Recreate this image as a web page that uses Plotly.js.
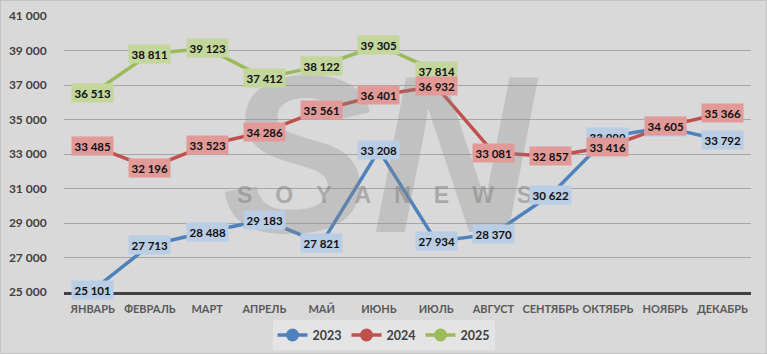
<!DOCTYPE html>
<html>
<head>
<meta charset="utf-8">
<script src="https://cdn.plot.ly/plotly-3.0.1.min.js"></script>
<style>
html,body{margin:0;padding:0;background:#d9d9d9;}
#chart{width:767px;height:354px;box-sizing:border-box;border:1px solid #c4c4c4;}
</style>
</head>
<body>
<div id="chart"></div>
<script>
const months = ['ЯНВАРЬ','ФЕВРАЛЬ','МАРТ','АПРЕЛЬ','МАЙ','ИЮНЬ','ИЮЛЬ','АВГУСТ','СЕНТЯБРЬ','ОКТЯБРЬ','НОЯБРЬ','ДЕКАБРЬ'];
const v2023 = [25101, 27713, 28488, 29183, 27821, 33208, 27934, 28370, 30622, 33999, 34550, 33792];
const v2024 = [33485, 32196, 33523, 34286, 35561, 36401, 36932, 33081, 32857, 33416, 34605, 35366];
const v2025 = [36513, 38811, 39123, 37412, 38122, 39305, 37814, null, null, null, null, null];
const seriesNames = ['2023', '2024', '2025'];
const lineColors = ['#4f81bd', '#c0504d', '#9bbb59'];
const boxColors = ['#b9cde5', '#e29a98', '#c3d69b'];
const allValues = [v2023, v2024, v2025];

function fmt(n){ return String(n).replace(/\B(?=(\d{3})+(?!\d))/g, '\u00a0'); }

const traces = allValues.map((vals, i) => ({
  type: 'scatter', mode: 'lines+markers', name: seriesNames[i],
  x: months, y: vals,
  line: {color: lineColors[i], width: 3.5},
  marker: {color: lineColors[i], size: 13},
  hoverinfo: 'skip'
}));

const annotations = [];
// watermark
annotations.push({xref:'paper', yref:'paper', x:0.46, y:0.5, text:'<i><b>SN</b></i>', showarrow:false,
  font:{family:'Liberation Sans', size:225, color:'rgba(140,140,140,0.30)'}});
annotations.push({xref:'paper', yref:'paper', x:0.467, y:0.35, text:'<b>S\u2003O\u2003Y\u2003A\u2003N\u2003E\u2003W\u2003S</b>', showarrow:false,
  font:{family:'Liberation Sans', size:23, color:'rgba(130,130,130,0.55)'}});

// data labels: order 2023, 2025, 2024 (2024 on top)
[0, 2, 1].forEach(si => {
  allValues[si].forEach((v, j) => {
    if (v === null) return;
    annotations.push({x: months[j], y: v, xref:'x', yref:'y', text: fmt(v), showarrow:false,
      bgcolor: boxColors[si], borderpad: 2.5,
      font:{family:'Lato, "Open Sans", sans-serif', size:11.5, weight:'bold', color:'#111'}});
  });
});

const layout = {
  width: 765, height: 352,
  margin: {l: 63, r: 15, t: 15, b: 61, autoexpand: false},
  paper_bgcolor: '#d9d9d9', plot_bgcolor: '#d9d9d9',
  separators: ', ',
  showlegend: true,
  legend: {orientation:'h', xref:'container', x:0.5, xanchor:'center', yref:'container', y:0.05, yanchor:'middle',
    bgcolor:'#e4e4e4', font:{family:'Lato, sans-serif', size:12.5, weight:'bold', color:'#404040'}, itemwidth:30},
  xaxis: {type:'category', range:[-0.5, 11.5], showgrid:false, showline:true, linecolor:'#404040', linewidth:2.5,
    ticks:'outside', ticklen:5, tickcolor:'rgba(0,0,0,0)', fixedrange:true, tickangle:0, automargin:false,
    tickfont:{family:'Lato, sans-serif', size:11, weight:'bold', color:'#595959'}},
  yaxis: {range:[25000, 41000], dtick:2000, tick0:25000, tickformat:',d', showgrid:true, gridcolor:'#a6a6a6', gridwidth:1,
    zeroline:false, ticks:'outside', ticklen:14, tickcolor:'rgba(0,0,0,0)', fixedrange:true, automargin:false,
    tickfont:{family:'Lato, sans-serif', size:12, weight:'bold', color:'#404040'}},
  annotations: annotations
};

Plotly.newPlot('chart', traces, layout, {displayModeBar:false, staticPlot:true});
</script>
</body>
</html>
